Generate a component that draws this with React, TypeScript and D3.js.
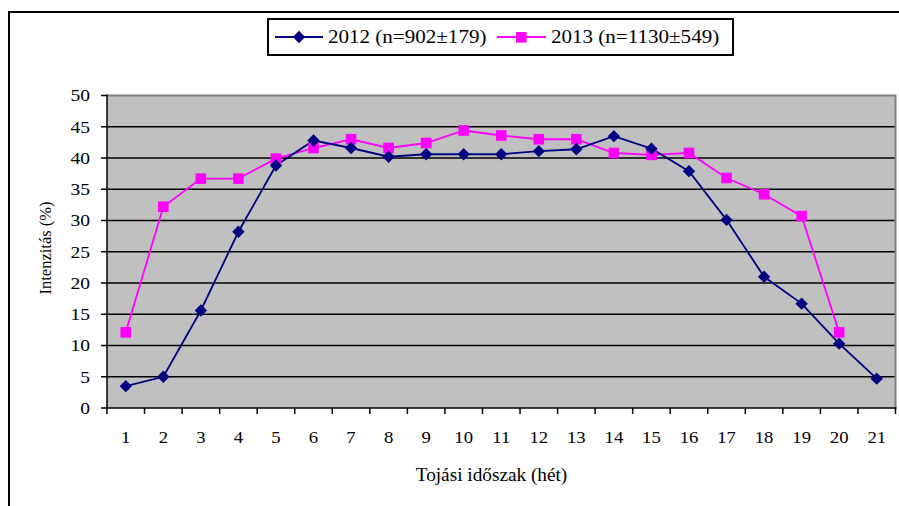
import React from "react";
import * as d3 from "d3";

const weeks = ["1","2","3","4","5","6","7","8","9","10","11","12","13","14","15","16","17","18","19","20","21"];
const series2012 = [3.5, 5.0, 15.6, 28.2, 38.8, 42.8, 41.6, 40.2, 40.6, 40.6, 40.6, 41.1, 41.4, 43.5, 41.5, 37.9, 30.1, 21.0, 16.7, 10.3, 4.7];
const series2013: (number | null)[] = [12.1, 32.2, 36.7, 36.7, 39.9, 41.6, 43.0, 41.6, 42.4, 44.4, 43.6, 43.0, 43.0, 40.8, 40.5, 40.8, 36.8, 34.2, 30.7, 12.1, null];
const yTicks = [0, 5, 10, 15, 20, 25, 30, 35, 40, 45, 50];
const legendLabels = ["2012 (n=902±179)", "2013 (n=1130±549)"];

const FONT = "Liberation Serif";
const NAVY = "#000080";
const PINK = "#FF00FF";

export default function App() {
  const left = 107, right = 895.5, top = 95.5, bottom = 408;
  const x = d3.scaleBand<string>().domain(weeks).range([left, right]).paddingInner(0).paddingOuter(0);
  const y = d3.scaleLinear().domain([0, 50]).range([bottom, top]);
  const cx = (w: string) => (x(w) as number) + x.bandwidth() / 2;

  const line = d3
    .line<number | null>()
    .defined((d) => d !== null)
    .x((_, i) => cx(weeks[i]))
    .y((d) => y(d as number));

  const diamond = (px: number, py: number, r = 6.2) =>
    `M${px},${py - r}L${px + r},${py}L${px},${py + r}L${px - r},${py}Z`;

  const boundaries = weeks.map((w) => x(w) as number).concat([right]);

  return (
    <svg width={899} height={506} style={{ position: "absolute", left: 0, top: 0, background: "#fff" }}>
      {/* outer frame */}
      <rect x={9} y={12} width={1000} height={1000} fill="none" stroke="#000" strokeWidth={2} />

      {/* plot area */}
      <rect x={left} y={top} width={right - left} height={bottom - top} fill="#C0C0C0" />
      {yTicks.filter((t) => t > 0 && t < 50).map((t) => (
        <line key={"g" + t} x1={left} x2={right} y1={y(t)} y2={y(t)} stroke="#000" strokeWidth={1.6} />
      ))}
      {/* top and right border */}
      <path d={`M${left},${top}H${right}V${bottom}`} fill="none" stroke="#808080" strokeWidth={2} />

      {/* axes */}
      <line x1={left} x2={left} y1={top - 1} y2={bottom} stroke="#000" strokeWidth={1.5} />
      <line x1={left} x2={right + 1} y1={bottom} y2={bottom} stroke="#000" strokeWidth={1.5} />
      {yTicks.map((t) => (
        <g key={"yt" + t}>
          <line x1={left - 6} x2={left} y1={y(t)} y2={y(t)} stroke="#000" strokeWidth={1.5} />
          <text
            x={90}
            y={y(t)}
            dy="0.35em"
            textAnchor="end"
            fontFamily={FONT}
            fontSize={17}
            transform={`translate(90 0) scale(1.15 1) translate(-90 0)`}
          >
            {t}
          </text>
        </g>
      ))}
      {boundaries.map((b, i) => (
        <line key={"xt" + i} x1={b} x2={b} y1={bottom} y2={bottom + 6} stroke="#000" strokeWidth={1.5} />
      ))}
      {weeks.map((w) => (
        <text
          key={"xl" + w}
          x={cx(w)}
          y={443}
          textAnchor="middle"
          fontFamily={FONT}
          fontSize={17}
          transform={`translate(${cx(w)} 0) scale(1.1 1) translate(${-cx(w)} 0)`}
        >
          {w}
        </text>
      ))}

      {/* axis titles */}
      <text
        x={491.5}
        y={481}
        textAnchor="middle"
        fontFamily={FONT}
        fontSize={18}
        transform="translate(491.5 0) scale(1.07 1) translate(-491.5 0)"
      >
        Tojási időszak (hét)
      </text>
      <text transform={`translate(51 248) rotate(-90)`} textAnchor="middle" fontFamily={FONT} fontSize={16.5}>
        Intenzitás (%)
      </text>

      {/* series */}
      <path d={line(series2013) || ""} fill="none" stroke={PINK} strokeWidth={1.8} />
      <path d={line(series2012) || ""} fill="none" stroke={NAVY} strokeWidth={1.8} />
      {series2013.map((v, i) =>
        v === null ? null : (
          <rect key={"s" + i} x={cx(weeks[i]) - 5.3} y={y(v as number) - 5.3} width={10.6} height={10.6} fill={PINK} />
        )
      )}
      {series2012.map((v, i) => (
        <path key={"d" + i} d={diamond(cx(weeks[i]), y(v))} fill={NAVY} />
      ))}

      {/* legend */}
      <rect x={268} y={19} width={465} height={36} fill="#fff" stroke="#000" strokeWidth={2} />
      <line x1={275} x2={323} y1={37} y2={37} stroke={NAVY} strokeWidth={1.8} />
      <path d={diamond(299, 37)} fill={NAVY} />
      <text x={328} y={43.5} fontFamily={FONT} fontSize={19.5} transform="translate(328 0) scale(1.08 1) translate(-328 0)">
        {legendLabels[0]}
      </text>
      <line x1={497} x2={546} y1={37} y2={37} stroke={PINK} strokeWidth={1.8} />
      <rect x={516} y={32} width={10.6} height={10.6} fill={PINK} />
      <text x={551} y={43.5} fontFamily={FONT} fontSize={19.5} transform="translate(551 0) scale(1.08 1) translate(-551 0)">
        {legendLabels[1]}
      </text>
    </svg>
  );
}
